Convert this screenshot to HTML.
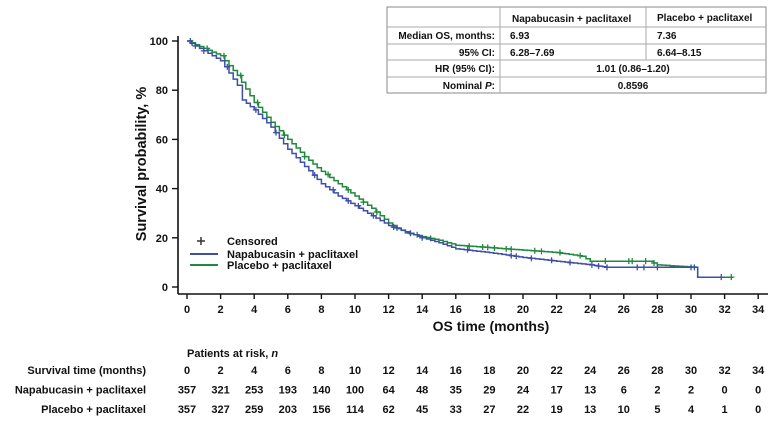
<!DOCTYPE html>
<html><head><meta charset="utf-8"><style>
body{margin:0;background:#fff;}
svg text{font-family:"Liberation Sans",Arial,sans-serif;font-weight:bold;fill:#111;}
</style></head><body>
<svg id="s" width="772" height="423" xmlns="http://www.w3.org/2000/svg">
<g id="g"></g>
</svg>
<script>
const X=t=>187+16.8*t, Y=p=>287-2.46*p;
let h='';
h+='<line x1="178" y1="36" x2="178" y2="294" stroke="#111" stroke-width="1.6"/>';
h+='<line x1="178" y1="294" x2="768" y2="294" stroke="#111" stroke-width="1.6"/>';
for(let p=0;p<=100;p+=20){h+=`<line x1="172" y1="${Y(p)}" x2="178" y2="${Y(p)}" stroke="#111" stroke-width="1.4"/><text x="168" y="${Y(p)+4}" font-size="11" text-anchor="end">${p}</text>`;}
for(let t=0;t<=34;t+=2){h+=`<line x1="${X(t)}" y1="294" x2="${X(t)}" y2="299" stroke="#111" stroke-width="1.4"/><text x="${X(t)}" y="313" font-size="11" text-anchor="middle">${t}</text>`;}
h+=`<text x="491" y="331" font-size="14" text-anchor="middle">OS time (months)</text>`;
h+=`<text transform="translate(146,164) rotate(-90)" font-size="14.5" text-anchor="middle">Survival probability, %</text>`;
function km(pts,col,cens){
 let d=`M${X(pts[0][0])},${Y(pts[0][1])}`;let steps=[];
 for(let i=0;i<pts.length-1;i++){const [t0,p0]=pts[i],[t1,p1]=pts[i+1];
  const n=Math.max(1,Math.round((t1-t0)*4));
  for(let k=1;k<=n;k++){const t=t0+(t1-t0)*k/n,p=p0+(p1-p0)*k/n;d+=`H${X(t).toFixed(1)}V${Y(p).toFixed(1)}`;steps.push([t,p]);}
 }
 h+=`<path d="${d}" fill="none" stroke="${col}" stroke-width="1.5"/>`;
 cens.forEach(t=>{let p=100;for(const s of steps){if(s[0]<=t)p=s[1];}
  const x=X(t),y=Y(p);h+=`<path d="M${x-3},${y}H${x+3}M${x},${y-3}V${y+3}" stroke="${col}" stroke-width="1.3"/>`;});
}
const green=[[0,100],[1,97],[2,94],[3,86],[4,75],[5,67],[6,60],[7,53],[8,47],[9,42],[10,37],[11,32],[12,26],[13,22],[14,20.5],[15,19],[16,17],[17,16.5],[20,15],[22,14],[23.5,12.5],[24,10.5],[27.5,10.5],[28,9],[30.3,8],[30.4,4],[32.5,4]];
const blue=[[0,100],[0.5,98],[1,96],[2,92],[2.5,87],[3,82],[3.3,76],[4,72],[5,65],[6,56],[7,49],[8,42],[9,37],[10,33],[11,29],[12,25],[13,22.5],[14,20],[15,18],[16,15.5],[18,14],[20,12],[22,10.5],[24,9],[25,8],[30.3,8],[30.4,4],[32,4]];
km(green,'#1f8a3c',[0.3,1.2,2.2,3.2,4.2,5.8,7,8.4,9.6,10.5,11.3,12.5,13.7,14.5,16.8,17.6,17.9,18.3,19,19.3,20.7,21.1,22.2,23.4,24.9,26.3,26.5,27.3,27.8,32.4]);
km(blue,'#3f4fa8',[0.2,0.5,1,2.4,4.1,5.3,7.6,8.7,9.6,10.2,11.1,12.3,13.3,14,16.7,19.3,19.6,20.5,21.7,22.8,24.1,24.5,25,26.8,27.2,28,30,30.2,31.8]);
h+='<path d="M197,241H205M201,237V245" stroke="#333" stroke-width="1.5"/>';
h+='<text x="227" y="245" font-size="11">Censored</text>';
h+='<line x1="190" y1="254" x2="218" y2="254" stroke="#3f4fa8" stroke-width="2"/><text x="227" y="258" font-size="11">Napabucasin + paclitaxel</text>';
h+='<line x1="190" y1="265" x2="218" y2="265" stroke="#1f8a3c" stroke-width="2"/><text x="227" y="269" font-size="11">Placebo + paclitaxel</text>';
h+='<rect x="387" y="7" width="379" height="86" fill="#fff" stroke="#888" stroke-width="1"/>';
[27,44,60,77].forEach(y=>h+=`<line x1="387" y1="${y}" x2="766" y2="${y}" stroke="#aaa"/>`);
h+='<line x1="500" y1="7" x2="500" y2="93" stroke="#aaa"/><line x1="646" y1="7" x2="646" y2="60" stroke="#aaa"/>';
const ft='font-size="10"';
h+=`<text x="512" y="22" ${ft}>Napabucasin + paclitaxel</text><text x="657" y="21" ${ft}>Placebo + paclitaxel</text>`;
h+=`<text x="495" y="39" ${ft} text-anchor="end">Median OS, months:</text><text x="510" y="39" ${ft}>6.93</text><text x="657" y="39" ${ft}>7.36</text>`;
h+=`<text x="495" y="56" ${ft} text-anchor="end">95% CI:</text><text x="510" y="56" ${ft}>6.28–7.69</text><text x="657" y="56" ${ft}>6.64–8.15</text>`;
h+=`<text x="495" y="72" ${ft} text-anchor="end">HR (95% CI):</text><text x="633" y="72" ${ft} text-anchor="middle">1.01 (0.86–1.20)</text>`;
h+=`<text x="495" y="89" ${ft} text-anchor="end">Nominal <tspan font-style="italic">P</tspan>:</text><text x="633" y="89" ${ft} text-anchor="middle">0.8596</text>`;
h+=`<text x="187" y="357" font-size="11">Patients at risk, <tspan font-style="italic">n</tspan></text>`;
const rows=[["Survival time (months)",[0,2,4,6,8,10,12,14,16,18,20,22,24,26,28,30,32,34]],
["Napabucasin + paclitaxel",[357,321,253,193,140,100,64,48,35,29,24,17,13,6,2,2,0,0]],
["Placebo + paclitaxel",[357,327,259,203,156,114,62,45,33,27,22,19,13,10,5,4,1,0]]];
rows.forEach((r,i)=>{const y=374+i*19.5;h+=`<text x="146" y="${y}" font-size="11" text-anchor="end">${r[0]}</text>`;
 r[1].forEach((v,j)=>h+=`<text x="${X(j*2)}" y="${y}" font-size="11" text-anchor="middle">${v}</text>`);});
document.getElementById('g').innerHTML=h;
</script>
</body></html>
